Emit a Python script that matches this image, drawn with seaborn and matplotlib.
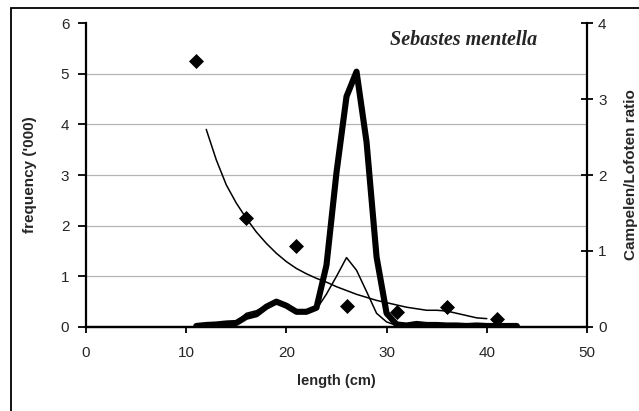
import numpy as np
import pandas as pd
import matplotlib
matplotlib.use('Agg')
import matplotlib.pyplot as plt
import seaborn as sns
from matplotlib.patches import Rectangle

# length-frequency ('000) -- thick: Campelen, thin: Lofoten
campelen_len = list(range(11, 44))
campelen_freq = [0.02, 0.04, 0.05, 0.07, 0.08, 0.20, 0.25, 0.40, 0.50, 0.42,
                 0.30, 0.30, 0.38, 1.22, 3.05, 4.55, 5.04, 3.65, 1.38, 0.27,
                 0.05, 0.03, 0.06, 0.04, 0.04, 0.03, 0.03, 0.02, 0.03, 0.02,
                 0.02, 0.02, 0.02]
lofoten_len = list(range(11, 41))
lofoten_freq = [0.02, 0.04, 0.06, 0.08, 0.10, 0.27, 0.32, 0.42, 0.52, 0.45,
                0.33, 0.32, 0.35, 0.65, 1.00, 1.37, 1.12, 0.70, 0.27, 0.10,
                0.03, 0.02, 0.02, 0.02, 0.01, 0.01, 0.01, 0.01, 0.01, 0.01]

# Campelen/Lofoten ratio: fitted curve and observed points
fit_len = list(range(12, 41))
fit_ratio = [2.60, 2.20, 1.87, 1.63, 1.43, 1.25, 1.10, 0.97, 0.86, 0.77,
             0.70, 0.64, 0.59, 0.53, 0.48, 0.43, 0.39, 0.35, 0.32, 0.29,
             0.26, 0.24, 0.22, 0.22, 0.21, 0.18, 0.15, 0.12, 0.11]
obs_len = [11, 16, 21, 26, 31, 36, 41]
obs_ratio = [3.50, 1.43, 1.06, 0.27, 0.20, 0.26, 0.10]

sns.set_style('white')
plt.rcParams['font.family'] = ['Liberation Sans', 'DejaVu Sans']

fig = plt.figure(figsize=(6.39, 4.11), dpi=100)
ax = fig.add_axes([0.1346, 0.2044, 0.784, 0.7396])
ax2 = ax.twinx()

sns.lineplot(x=campelen_len, y=campelen_freq, ax=ax, color='black', lw=4.4)
sns.lineplot(x=lofoten_len, y=lofoten_freq, ax=ax, color='black', lw=1.1)
sns.lineplot(x=fit_len, y=fit_ratio, ax=ax2, color='black', lw=1.1)
sns.scatterplot(x=obs_len, y=obs_ratio, ax=ax2, color='black', marker='D', s=50,
                edgecolor='black', zorder=5)

ax.set_xlim(0, 50)
ax.set_ylim(0, 6)
ax2.set_ylim(0, 4)
ax.set_xticks(range(0, 51, 10))
ax.set_yticks(range(0, 7))
ax2.set_yticks(range(0, 5))

ax.yaxis.grid(True, color='#b4b4b4', lw=0.9)
ax.xaxis.grid(False)
ax.yaxis.get_gridlines()[-1].set_visible(False)
ax.yaxis.get_gridlines()[0].set_visible(False)

for a in (ax, ax2):
    a.spines['top'].set_visible(False)
    for s in a.spines.values():
        s.set_color('black')
        s.set_linewidth(1.6)
ax2.spines['left'].set_visible(False)
ax.spines['right'].set_visible(False)

ax.tick_params(axis='x', direction='out', length=4, width=1.3, pad=10,
               labelsize=11, color='black', bottom=True)
ax.tick_params(axis='y', direction='out', length=6, width=1.3, pad=6,
               labelsize=11, color='black', left=True)
ax2.tick_params(axis='y', direction='inout', length=8, width=1.3, pad=4,
                labelsize=11, color='black', right=True)

ax.set_xlabel('length (cm)', fontsize=10.5, fontweight='bold')
ax.set_ylabel("frequency ('000)", fontsize=11, fontweight='bold')
ax2.set_ylabel('Campelen/Lofoten ratio', fontsize=11, fontweight='bold')
ax.xaxis.set_label_coords(0.5, -0.155)
ax.yaxis.set_label_coords(-0.098, 0.5)
ax2.yaxis.set_label_coords(1.074, 0.5)

ax.text(0.607, 0.944, 'Sebastes mentella', transform=ax.transAxes,
        ha='left', va='center', fontsize=14.5, fontweight='bold', style='italic',
        family='Liberation Serif')

fig.patches.append(Rectangle((0.0172, -0.1), 1.2, 1.0805, transform=fig.transFigure,
                             fill=False, edgecolor='black', lw=1.3))

fig.savefig('out.png', dpi=100)
